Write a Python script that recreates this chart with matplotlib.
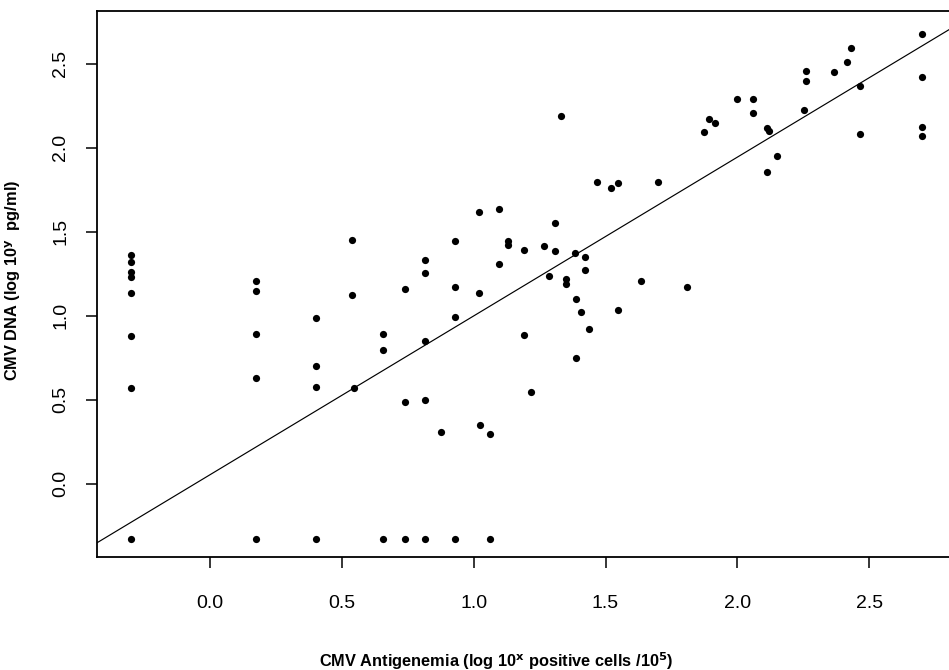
import numpy as np
import matplotlib
matplotlib.use("Agg")
import matplotlib.pyplot as plt

plt.rcParams['font.family'] = ['Liberation Sans', 'DejaVu Sans']

# antigenemia (log10 positive cells / 10^5) vs CMV DNA (log10 pg/ml)
antigenemia = [-0.30, -0.30, -0.30, -0.30, -0.30, -0.30, -0.30, -0.30,
               0.175, 0.175, 0.175, 0.175, 0.175,
               0.40, 0.40, 0.40, 0.40,
               0.54, 0.54, 0.545,
               0.655, 0.655, 0.655,
               0.74, 0.74, 0.74,
               0.815, 0.815, 0.815, 0.815, 0.815,
               0.875,
               0.93, 0.93, 0.93, 0.93,
               1.02, 1.02, 1.024, 1.062, 1.062,
               1.095, 1.095, 1.129, 1.129, 1.189, 1.191, 1.219,
               1.265, 1.287, 1.309, 1.309, 1.330, 1.351, 1.351,
               1.385, 1.387, 1.387, 1.406, 1.421, 1.421, 1.439,
               1.467, 1.521, 1.547, 1.548, 1.635, 1.701, 1.808,
               1.872, 1.894, 1.915, 1.998, 2.059, 2.061,
               2.112, 2.122, 2.112, 2.152,
               2.253, 2.260, 2.260, 2.365, 2.417, 2.430, 2.466, 2.466,
               2.700, 2.700, 2.700, 2.700]
cmv_dna = [1.36, 1.32, 1.26, 1.23, 1.135, 0.88, 0.57, -0.33,
           1.21, 1.15, 0.89, 0.63, -0.33,
           0.99, 0.70, 0.575, -0.33,
           1.45, 1.125, 0.57,
           0.893, 0.80, -0.33,
           1.163, 0.485, -0.33,
           1.33, 1.255, 0.85, 0.50, -0.33,
           0.31,
           1.448, 1.175, 0.996, -0.33,
           1.62, 1.137, 0.353, 0.298, -0.33,
           1.635, 1.311, 1.448, 1.423, 1.395, 0.887, 0.546,
           1.417, 1.238, 1.552, 1.387, 2.192, 1.218, 1.192,
           1.377, 1.103, 0.748, 1.024, 1.349, 1.276, 0.921,
           1.800, 1.764, 1.794, 1.034, 1.206, 1.796, 1.171,
           2.097, 2.171, 2.151, 2.290, 2.292, 2.207,
           2.117, 2.101, 1.855, 1.954,
           2.226, 2.460, 2.397, 2.450, 2.512, 2.597, 2.371, 2.085,
           2.679, 2.425, 2.123, 2.070]

# fitted line as drawn in the figure
fit_intercept = 0.055
fit_slope = 0.945

xticks = [0.0, 0.5, 1.0, 1.5, 2.0, 2.5]
yticks = [0.0, 0.5, 1.0, 1.5, 2.0, 2.5]

fig = plt.figure(figsize=(9.49, 6.70), dpi=100)
ax = fig.add_axes([97 / 949, 1 - 557 / 670, 1 - 97 / 949, (557 - 11) / 670])

ax.scatter(antigenemia, cmv_dna, s=27, color='black', linewidths=0, zorder=3)
ax.axline((0, fit_intercept), slope=fit_slope, color='black', lw=0.85)

ax.set_xlim(-0.429, 2.803)
ax.set_ylim(-0.435, 2.815)
ax.set_xticks(xticks)
ax.set_yticks(yticks)
ax.set_xticklabels(['%.1f' % t for t in xticks])
ax.set_yticklabels(['%.1f' % t for t in yticks], rotation=90, va='center')

ax.tick_params(axis='x', direction='out', length=8, width=1.1, pad=19, labelsize=14)
ax.tick_params(axis='y', direction='out', length=8, width=1.1, pad=12, labelsize=14)

for side in ['left', 'bottom', 'top']:
    ax.spines[side].set_linewidth(1.3)
ax.spines['right'].set_visible(False)

ax.set_xlabel('CMV Antigenemia (log 10$^{\\mathbf{x}}$ positive cells /10$^{\\mathbf{5}}$)',
              fontsize=11.8, fontweight='bold')
ax.set_ylabel('CMV DNA (log 10$^{\\mathbf{y}}$  pg/ml)', fontsize=11.8, fontweight='bold')
ax.xaxis.set_label_coords(0.469, -0.17)
ax.yaxis.set_label_coords(-0.087, 0.507)

fig.savefig('out.png', dpi=100)
